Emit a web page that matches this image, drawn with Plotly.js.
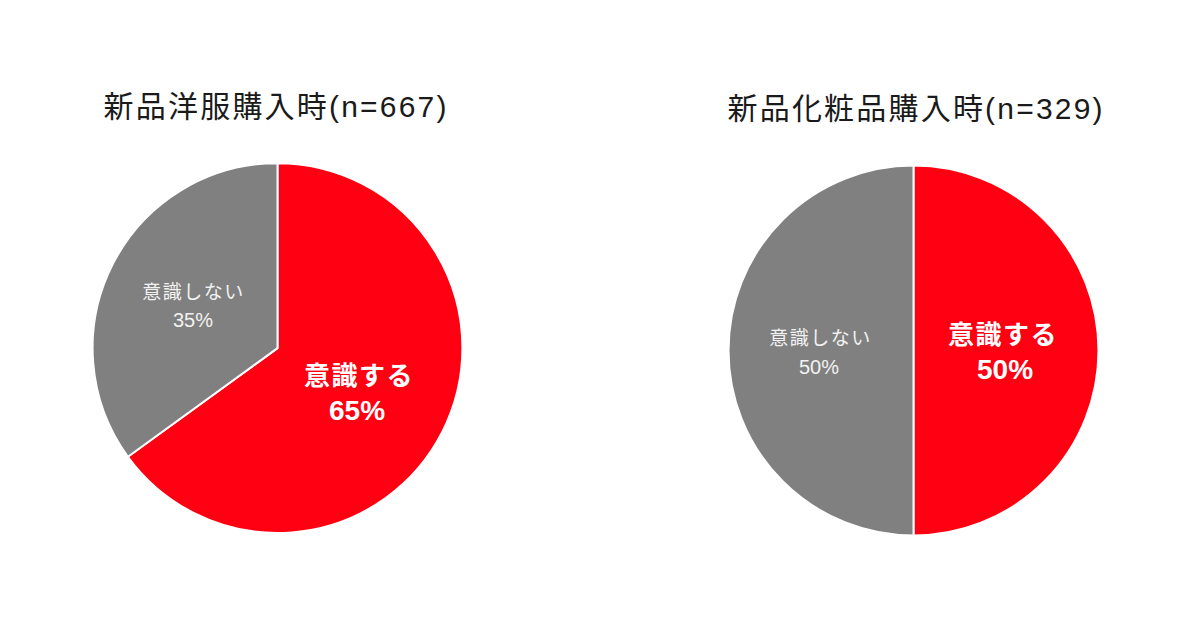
<!DOCTYPE html>
<html><head><meta charset="utf-8">
<script src="https://cdn.plot.ly/plotly-3.0.1.min.js"></script>
<style>
html,body{margin:0;padding:0;background:#fff}#chart{width:1200px;height:630px}
g.annotation[data-index="0"] text, g.annotation[data-index="1"] text{letter-spacing:2.2px}
g.annotation[data-index="2"] text, g.annotation[data-index="6"] text{letter-spacing:1.5px}
g.annotation[data-index="4"] text, g.annotation[data-index="8"] text{letter-spacing:1.5px}
</style>
</head><body><div id="chart"></div>
<script>
const categories = ["意識する", "意識しない"];
const clothesValues = [65, 35];
const cosmeticsValues = [50, 50];
const chartTitles = ["新品洋服購入時(n=667)", "新品化粧品購入時(n=329)"];
const sliceColors = ["#ff0013", "#808080"];

const font = '"Liberation Sans", "Noto Sans CJK JP", sans-serif';

function pieTrace(values, dx, dy) {
  return {
    type: 'pie', labels: categories, values: values, sort: false,
    direction: 'clockwise', rotation: 0,
    marker: {colors: sliceColors, line: {color: '#ffffff', width: 2}},
    textinfo: 'none', hoverinfo: 'label+percent', showlegend: false,
    domain: {x: dx, y: dy}
  };
}

const data = [
  pieTrace(clothesValues, [0.0771, 0.3854], [0.154, 0.741]),
  pieTrace(cosmeticsValues, [0.6071, 0.9154], [0.15, 0.7373])
];

function pct(vals, i) {
  const s = vals.reduce((a, b) => a + b, 0);
  return Math.round(vals[i] / s * 100) + '%';
}

const annotations = [
  {text: chartTitles[0], x: 276, y: 106, size: 30, color: '#1a1a1a'},
  {text: chartTitles[1], x: 916, y: 108, size: 30, color: '#1a1a1a'},
  {text: categories[1], x: 193, y: 292, size: 19, color: '#f2f2f2'},
  {text: pct(clothesValues, 1), x: 193, y: 320, size: 20, color: '#f2f2f2'},
  {text: '<b>' + categories[0] + '</b>', x: 359, y: 376, size: 26, color: '#ffffff'},
  {text: '<b>' + pct(clothesValues, 0) + '</b>', x: 357, y: 410, size: 28, color: '#ffffff'},
  {text: categories[1], x: 820, y: 338, size: 19, color: '#f2f2f2'},
  {text: pct(cosmeticsValues, 1), x: 819, y: 367, size: 20, color: '#f2f2f2'},
  {text: '<b>' + categories[0] + '</b>', x: 1003, y: 335, size: 26, color: '#ffffff'},
  {text: '<b>' + pct(cosmeticsValues, 0) + '</b>', x: 1005, y: 369, size: 28, color: '#ffffff'}
].map(a => ({
  text: a.text, xref: 'paper', yref: 'paper', x: a.x / 1200, y: 1 - a.y / 630,
  xanchor: 'center', yanchor: 'middle', showarrow: false,
  font: {family: font, size: a.size, color: a.color}
}));

const layout = {
  width: 1200, height: 630,
  margin: {l: 0, r: 0, t: 0, b: 0},
  paper_bgcolor: '#ffffff', plot_bgcolor: '#ffffff',
  font: {family: font},
  annotations: annotations
};

Plotly.newPlot('chart', data, layout, {displayModeBar: false, staticPlot: true});
</script></body></html>
